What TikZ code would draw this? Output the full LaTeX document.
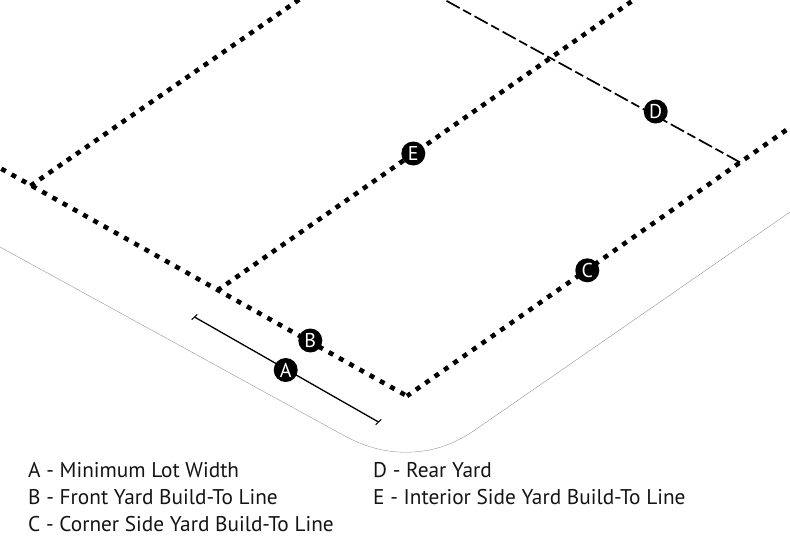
\documentclass[tikz,border=0pt]{standalone}
\usepackage{fontspec}
\usetikzlibrary{calc}
\setmainfont{PT Sans}
\tikzset{
  dotline/.style={line width=4.6pt,black},
  dashline/.style={line width=1.7pt,dash pattern=on 15pt off 4pt on 9pt off 4pt,black},
  dimline/.style={line width=1.3pt,black},
  curb/.style={line width=0.3pt,black!50},
  badge/.style={circle,fill=black,text=white,minimum size=24pt,inner sep=0pt,font=\fontsize{20}{20}\selectfont},
  legend/.style={anchor=base west,inner sep=0pt,font=\fontsize{21.3}{22}\selectfont,text=black!92}
}
\begin{document}
\begin{tikzpicture}[x=1pt,y=-1pt]
\useasboundingbox (0,0) rectangle (790,550);
\clip (0,0) rectangle (790,550);
% named coordinates
\coordinate (fl) at (0,168);
\coordinate (cn) at (407,396);
\coordinate (cr) at (792,126);
\coordinate (l1) at (30.5,185.8);
\coordinate (l2) at (300,-1);
\coordinate (i1) at (218,290);
\coordinate (i2) at (635,-1);
\coordinate (d1) at (445,0);
\coordinate (d2) at (740,162.3);
\coordinate (a1) at (194.5,317);
\coordinate (a2) at (378.5,422);
% curb
\draw[curb] (0,247) -- (343,435) .. controls (372,451) and (395,453) .. (413,452) .. controls (430,451) and (450,447) .. (475,430) -- (790,212);
% dotted lines
\draw[dotline,dash pattern=on 5pt off 6.73pt,dash phase=9.23pt] (cn) -- (fl);
\draw[dotline,dash pattern=on 5pt off 6.47pt,dash phase=0.55pt] (cn) -- (cr);
\draw[dotline,dash pattern=on 5pt off 6.1pt] (l1) -- (l2);
\draw[dotline,dash pattern=on 5pt off 6.11pt,dash phase=0.85pt] (i1) -- (i2);
% rear yard
\draw[dashline] (d2) -- (d1);
% dimension
\draw[dimline] (a1) -- (a2);
\draw[dimline,line width=1pt] ($(a1)+(-2.8,2.7)$) -- ($(a1)+(2.8,-2.7)$);
\draw[dimline,line width=1pt] ($(a2)+(-2.8,2.7)$) -- ($(a2)+(2.8,-2.7)$);
% badges
\node[badge] (A) at (285.7,370) {A};
\node[badge] (B) at (310.3,340.5) {B};
\node[badge] (C) at (587.3,270.3) {C};
\node[badge] (D) at (655.7,111.5) {D};
\node[badge] (E) at (413.3,153.5) {E};
% legend
\node[legend] (la) at (28,477) {A - Minimum Lot Width};
\node[legend] (lb) at (28,504) {B - Front Yard Build-To Line};
\node[legend] (lc) at (28,531) {C - Corner Side Yard Build-To Line};
\node[legend] (ld) at (373,477) {D - Rear Yard};
\node[legend] (le) at (373,504) {E - Interior Side Yard Build-To Line};
\end{tikzpicture}
\end{document}
